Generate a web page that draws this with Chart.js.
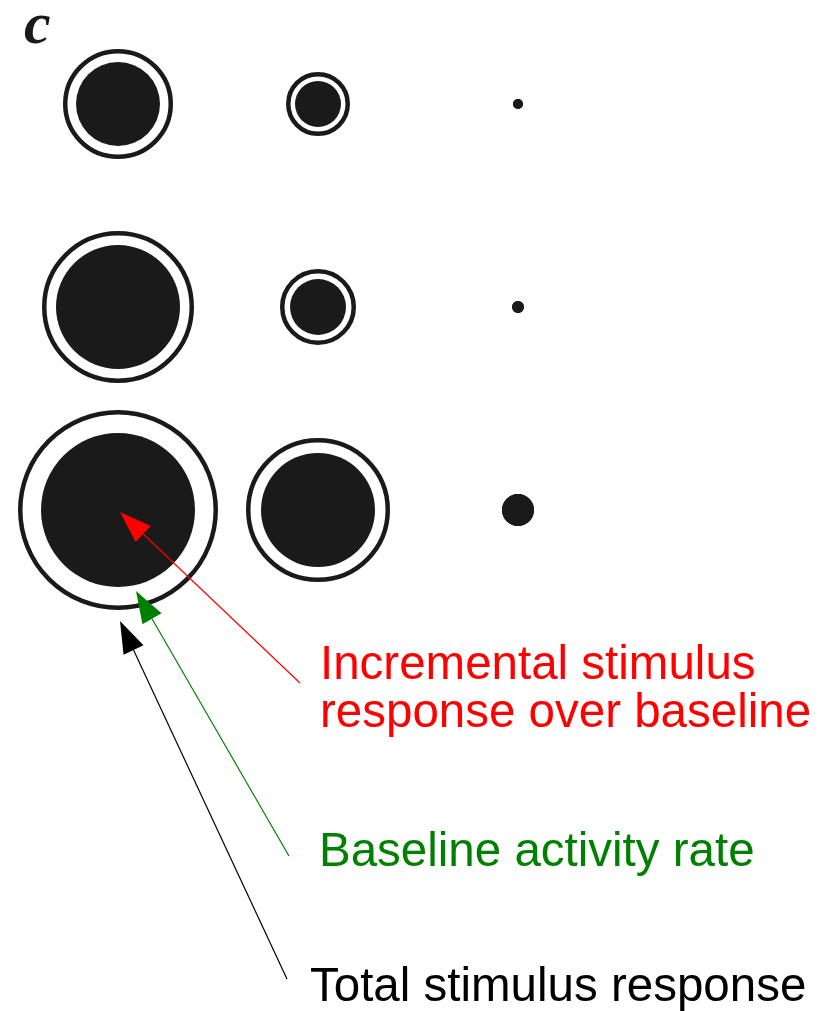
<!DOCTYPE html>
<html>
<head>
<meta charset="utf-8">
<script src="https://cdn.jsdelivr.net/npm/chart.js@4.4.0/dist/chart.umd.min.js"></script>
<style>
  html, body { margin: 0; padding: 0; background: #fff; }
  #wrap { width: 822px; height: 1011px; position: relative; }
</style>
</head>
<body>
<div id="wrap"><canvas id="myChart"></canvas></div>
<script>
// grid of stimuli: columns left->right, rows top->bottom
const columns = [1, 2, 3];
const rows = [3, 2, 1];

// radii (px), one list per row
const totalResponse = [
  [55, 32, 5],
  [76, 38, 6],
  [100, 72, 16]
];
const incrementalResponse = [
  [42, 23, 5],
  [62, 28, 6],
  [77, 57, 16]
];

const panelLabel = 'c';
const notes = [
  { lines: ['Incremental stimulus', 'response over baseline'], color: '#ff0000' },
  { lines: ['Baseline activity rate'], color: '#008000' },
  { lines: ['Total stimulus response'], color: '#000000' }
];

const ink = '#1a1a1a';
const ringWidth = 4.5;

const innerPts = [];
const ringPts = [];
rows.forEach((y, i) => {
  columns.forEach((x, j) => {
    innerPts.push({ x: x, y: y, r: incrementalResponse[i][j] });
    ringPts.push({ x: x, y: y, r: totalResponse[i][j] - ringWidth / 2 });
  });
});

// chart.js pads the plot area by the biggest bubble, take it into account
const pad = Math.max(...totalResponse.flat()) + ringWidth / 2;
const W = 822, H = 1011;
const pxPerCol = 200, pxPerRow = 203;
const xMin = columns[0] - (118 - pad) / pxPerCol;
const xMax = xMin + (W - 2 * pad) / pxPerCol;
const yMax = rows[0] + (104 - pad) / pxPerRow;
const yMin = yMax - (H - 2 * pad) / pxPerRow;

function arrow(ctx, x1, y1, x2, y2, color) {
  // line from (x1,y1) to tip (x2,y2)
  const ang = Math.atan2(y2 - y1, x2 - x1);
  const len = 32, half = 11;
  const bx = x2 - len * Math.cos(ang), by = y2 - len * Math.sin(ang);
  ctx.strokeStyle = color;
  ctx.lineWidth = 1.2;
  ctx.beginPath();
  ctx.moveTo(x1, y1);
  ctx.lineTo(bx, by);
  ctx.stroke();
  ctx.fillStyle = color;
  ctx.beginPath();
  ctx.moveTo(x2, y2);
  ctx.lineTo(bx + half * Math.sin(ang), by - half * Math.cos(ang));
  ctx.lineTo(bx - half * Math.sin(ang), by + half * Math.cos(ang));
  ctx.closePath();
  ctx.fill();
}

const notesPlugin = {
  id: 'notes',
  afterDatasetsDraw(chart) {
    const ctx = chart.ctx;
    const xs = chart.scales.x, ys = chart.scales.y;
    // the big bubble the arrows point at (bottom row, first column)
    const cx = xs.getPixelForValue(columns[0]);
    const cy = ys.getPixelForValue(rows[2]);
    ctx.save();
    arrow(ctx, 300, 683, cx + 2, cy + 2, notes[0].color);
    arrow(ctx, 289, 856, cx + 18, cy + 81, notes[1].color);
    arrow(ctx, 287, 979, cx + 2, cy + 111, notes[2].color);

    ctx.font = '47.5px "Liberation Sans", Arial, sans-serif';
    ctx.textBaseline = 'alphabetic';
    ctx.fillStyle = notes[0].color;
    ctx.fillText(notes[0].lines[0], 320, 679);
    ctx.fillText(notes[0].lines[1], 320, 727);
    ctx.fillStyle = notes[1].color;
    ctx.fillText(notes[1].lines[0], 319, 866);
    ctx.fillStyle = notes[2].color;
    ctx.fillText(notes[2].lines[0], 310, 1001);

    ctx.font = 'italic bold 60px "Liberation Serif", "DejaVu Serif", serif';
    ctx.fillStyle = ink;
    ctx.fillText(panelLabel, 24, 43);
    ctx.restore();
  }
};

new Chart(document.getElementById('myChart'), {
  type: 'bubble',
  data: {
    datasets: [
      { label: 'Incremental', data: innerPts, backgroundColor: ink, borderWidth: 0, clip: false },
      { label: 'Total', data: ringPts, backgroundColor: '#ffffff', borderColor: ink, borderWidth: ringWidth, clip: false }
    ]
  },
  options: {
    responsive: true,
    maintainAspectRatio: false,
    animation: false,
    events: [],
    layout: { padding: 0 },
    plugins: { legend: { display: false }, tooltip: { enabled: false } },
    scales: {
      x: { type: 'linear', min: xMin, max: xMax, display: false },
      y: { type: 'linear', min: yMin, max: yMax, display: false }
    }
  },
  plugins: [notesPlugin]
});
</script>
</body>
</html>
